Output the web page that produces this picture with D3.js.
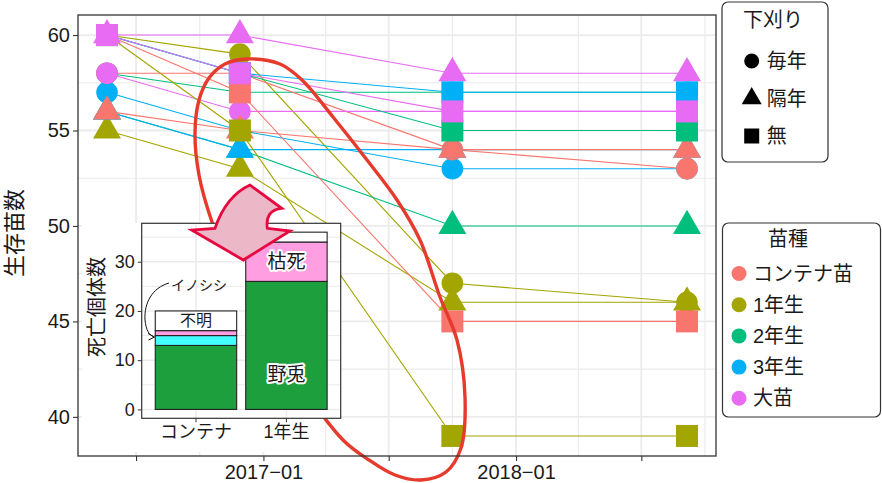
<!DOCTYPE html>
<html><head><meta charset="utf-8">
<script src="https://cdn.jsdelivr.net/npm/d3@7"></script>
<style>
body{margin:0;background:#fff}
svg{display:block}
text{font-family:"Liberation Sans","Noto Sans CJK JP",sans-serif;fill:#1a1a1a}
</style>
</head><body>
<svg id="c" width="882" height="483"></svg>
<script>
// ---------------- data ----------------
const surveyDates = ["2016-05-20","2016-11-28","2017-10-01","2018-09-05"];
const seedlingTypes = ["コンテナ苗","1年生","2年生","3年生","大苗"];
const typeColors = ["#F8766D","#A3A500","#00BF7D","#00B0F6","#E76BF3"];
const weedingTypes = ["毎年","隔年","無"];
const drawTypeOrder = [1,2,3,0,4];
// surviving seedlings per type x weeding at each survey
const containerEvery = [58,58,54,53];
const containerAlt   = [56,55,54,54];
const containerNone  = [60,57,45,45];
const year1Every = [60,59,47,46];
const year1Alt   = [55,53,46,46];
const year1None  = [60,55,39,39];
const year2Every = [58,57,57,57];
const year2Alt   = [56,54,50,50];
const year2None  = [60,58,55,55];
const year3Every = [57,55,53,53];
const year3Alt   = [56,54,54,54];
const year3None  = [60,58,57,57];
const largeEvery = [58,56,56,56];
const largeAlt   = [60,60,58,58];
const largeNone  = [60,58,56,56];
const yTicks = [40,45,50,55,60];
const yMinorTicks = [42.5,47.5,52.5,57.5];
const xTickLabels = {"2017-01":"2017−01","2018-01":"2018−01"};

// inset: dead seedlings by cause
const insetCats = ["コンテナ","1年生"];
const causes = ["野兎","イノシシ","枯死","不明"];
const causeColors = ["#1c9f3c","#44ffff","#ff9ee0","#ffffff"];
const deadRabbit  = [13,26];
const deadBoar    = [2,0];
const deadWither  = [1,8];
const deadUnknown = [4,2];
const insetTicks = [0,10,20,30];
const insetMinor = [5,15,25,35];

// ---------------- build ----------------
const series = [
  {t:0,w:0,v:containerEvery},{t:0,w:1,v:containerAlt},{t:0,w:2,v:containerNone},
  {t:1,w:0,v:year1Every},{t:1,w:1,v:year1Alt},{t:1,w:2,v:year1None},
  {t:2,w:0,v:year2Every},{t:2,w:1,v:year2Alt},{t:2,w:2,v:year2None},
  {t:3,w:0,v:year3Every},{t:3,w:1,v:year3Alt},{t:3,w:2,v:year3None},
  {t:4,w:0,v:largeEvery},{t:4,w:1,v:largeAlt},{t:4,w:2,v:largeNone}
];
const svg = d3.select("#c");
const P = {l:78, r:716, t:15, b:456};
const parse = d3.timeParse("%Y-%m-%d");
const dts = surveyDates.map(parse);
const span = dts[3]-dts[0];
const x = d3.scaleTime().domain([new Date(+dts[0]-0.05*span), new Date(+dts[3]+0.05*span)]).range([P.l,P.r]);
const y = d3.scaleLinear().domain([37.95,61.05]).range([P.b,P.t]);

svg.append("rect").attr("x",P.l).attr("y",P.t).attr("width",P.r-P.l).attr("height",P.b-P.t).attr("fill","#fff");
const xMajor = d3.timeMonth.every(6).range(x.domain()[0], x.domain()[1]);
const xMinor = d3.timeMonth.every(3).range(x.domain()[0], x.domain()[1]).filter(d=>d.getMonth()%6!==0);
const grid = svg.append("g");
grid.selectAll(".ym").data(yMinorTicks).join("line").attr("x1",P.l).attr("x2",P.r).attr("y1",d=>y(d)).attr("y2",d=>y(d)).attr("stroke","#ebebeb").attr("stroke-width",1.2);
grid.selectAll(".xm").data(xMinor).join("line").attr("y1",P.t).attr("y2",P.b).attr("x1",d=>x(d)).attr("x2",d=>x(d)).attr("stroke","#ebebeb").attr("stroke-width",1.2);
grid.selectAll(".yM").data(yTicks).join("line").attr("x1",P.l).attr("x2",P.r).attr("y1",d=>y(d)).attr("y2",d=>y(d)).attr("stroke","#ebebeb").attr("stroke-width",1.8);
grid.selectAll(".xM").data(xMajor).join("line").attr("y1",P.t).attr("y2",P.b).attr("x1",d=>x(d)).attr("x2",d=>x(d)).attr("stroke","#ebebeb").attr("stroke-width",1.8);

// order: weeding, then type order
const ordered = [];
weedingTypes.forEach((w,wi)=>drawTypeOrder.forEach(ti=>{ordered.push(series.find(s=>s.t===ti&&s.w===wi));}));
const line = d3.line().x((d,i)=>x(dts[i])).y(d=>y(d));
svg.append("g").selectAll("path").data(ordered).join("path")
  .attr("d",d=>line(d.v)).attr("fill","none").attr("stroke",d=>typeColors[d.t]).attr("stroke-width",1.1);

function shapePath(w, cx, cy, s){
  if(w===0){ return `M${cx-s.r},${cy}a${s.r},${s.r} 0 1,0 ${2*s.r},0a${s.r},${s.r} 0 1,0 ${-2*s.r},0Z`; }
  if(w===1){ const h=s.tw*0.866; return `M${cx},${cy-2*h/3}L${cx+s.tw/2},${cy+h/3}L${cx-s.tw/2},${cy+h/3}Z`; }
  return `M${cx-s.sq/2},${cy-s.sq/2}h${s.sq}v${s.sq}h${-s.sq}Z`;
}
const big = {r:10.8, tw:28, sq:22};
const pts = [];
ordered.forEach(s=>s.v.forEach((v,i)=>pts.push({s,v,i})));
svg.append("g").selectAll("path").data(pts).join("path")
  .attr("d",d=>shapePath(d.s.w, x(dts[d.i]), y(d.v), big)).attr("fill",d=>typeColors[d.s.t]);

// red ellipse annotation
const ellPts = [[247,59],[280,64],[302,80],[333,117],[367,160],[397,200],[420,240],[440,297],[457,340],[465,397],[461,448],[446,472],[421,480],[395,475],[369,460],[343,440],[290,370],[240,290],[212,222],[199,175],[195,133],[199,100],[209,78],[225,64]];
svg.append("path").attr("d",d3.line().curve(d3.curveCatmullRomClosed)(ellPts))
  .attr("fill","none").attr("stroke","#e63a2c").attr("stroke-width",3.4);

// axes
const xAxis = d3.axisBottom(x).tickValues(xMajor).tickSize(5).tickPadding(4)
  .tickFormat(d=>xTickLabels[d3.timeFormat("%Y-%m")(d)]||"");
const gx = svg.append("g").attr("transform",`translate(0,${P.b})`).call(xAxis);
const yAxis = d3.axisLeft(y).tickValues(yTicks).tickSize(5).tickPadding(3);
const gy = svg.append("g").attr("transform",`translate(${P.l},0)`).call(yAxis);
[gx,gy].forEach(g=>{g.select(".domain").remove();g.selectAll(".tick line").attr("stroke","#333").attr("stroke-width",1.1);
  g.selectAll(".tick text").attr("font-size",20).attr("fill","#1a1a1a").attr("font-family",null);});
svg.append("text").attr("transform","translate(14,233) rotate(-90)").attr("text-anchor","middle").attr("dominant-baseline","central").attr("font-size",22).text("生存苗数");

// ---------------- inset ----------------
const I = {l:141.7, r:340.7, t:223.3, b:418.3};
svg.append("rect").attr("x",82).attr("y",223).attr("width",236).attr("height",229).attr("fill","#fff");
svg.append("rect").attr("x",I.l).attr("y",I.t).attr("width",I.r-I.l).attr("height",I.b-I.t).attr("fill","#fff");
const ix = d3.scaleBand().domain(insetCats).range([I.l,I.r]).paddingInner(0.1).paddingOuter(0.15);
const iy = d3.scaleLinear().domain([-1.8,37.8]).range([I.b,I.t]);
const ig = svg.append("g");
ig.selectAll(".mn").data(insetMinor).join("line").attr("x1",I.l).attr("x2",I.r).attr("y1",d=>iy(d)).attr("y2",d=>iy(d)).attr("stroke","#ebebeb").attr("stroke-width",1);
ig.selectAll(".mj").data(insetTicks).join("line").attr("x1",I.l).attr("x2",I.r).attr("y1",d=>iy(d)).attr("y2",d=>iy(d)).attr("stroke","#ebebeb").attr("stroke-width",1.5);
ig.selectAll(".vx").data(insetCats).join("line").attr("y1",I.t).attr("y2",I.b).attr("x1",d=>ix(d)+ix.bandwidth()/2).attr("x2",d=>ix(d)+ix.bandwidth()/2).attr("stroke","#ebebeb").attr("stroke-width",1.5);
const insetRows = insetCats.map((c,i)=>({cat:c,"野兎":deadRabbit[i],"イノシシ":deadBoar[i],"枯死":deadWither[i],"不明":deadUnknown[i]}));
const stacked = d3.stack().keys(causes)(insetRows);
stacked.forEach((layer,li)=>{
  ig.selectAll(".b"+li).data(layer.filter(d=>d[1]>d[0])).join("rect")
    .attr("x",d=>ix(d.data.cat)).attr("width",ix.bandwidth())
    .attr("y",d=>iy(d[1])).attr("height",d=>iy(d[0])-iy(d[1]))
    .attr("fill",causeColors[li]).attr("stroke","#222").attr("stroke-width",1.1);
});
ig.append("rect").attr("x",I.l).attr("y",I.t).attr("width",I.r-I.l).attr("height",I.b-I.t).attr("fill","none").attr("stroke","#333").attr("stroke-width",1.2);
const ixA = d3.axisBottom(ix).tickSize(4).tickPadding(3);
const gix = ig.append("g").attr("transform",`translate(0,${I.b})`).call(ixA);
const iyA = d3.axisLeft(iy).tickValues(insetTicks).tickSize(4).tickPadding(3);
const giy = ig.append("g").attr("transform",`translate(${I.l},0)`).call(iyA);
[gix,giy].forEach(g=>{g.select(".domain").remove();g.selectAll(".tick line").attr("stroke","#333");
  g.selectAll(".tick text").attr("font-size",18).attr("fill","#1a1a1a").attr("font-family",null);});
ig.append("text").attr("transform","translate(97,307) rotate(-90)").attr("text-anchor","middle").attr("dominant-baseline","central").attr("font-size",20).text("死亡個体数");
// segment labels
const cx0 = ix(insetCats[0])+ix.bandwidth()/2, cx1 = ix(insetCats[1])+ix.bandwidth()/2;
ig.append("text").attr("x",cx0).attr("y",iy(deadRabbit[0]+deadBoar[0]+deadWither[0]+deadUnknown[0]/2)).attr("text-anchor","middle").attr("dominant-baseline","central").attr("font-size",16).text("不明");
[["枯死",cx1,iy(deadRabbit[1]+deadWither[1]/2)],["野兎",cx1,iy(7)]].forEach(([t,xx,yy])=>{
  ig.append("text").attr("x",xx).attr("y",yy).attr("text-anchor","middle").attr("dominant-baseline","central").attr("font-size",19)
    .attr("stroke","#fff").attr("stroke-width",4).attr("stroke-linejoin","round").attr("paint-order","stroke").text(t);
});
ig.append("text").attr("x",171).attr("y",285).attr("dominant-baseline","central").attr("font-size",14).text("イノシシ");
ig.append("path").attr("d","M169,283 C152,288 144,303 145,320 C146,330 149,335 154,337").attr("fill","none").attr("stroke","#111").attr("stroke-width",1);
ig.append("path").attr("d","M148,333.5 L154.5,337 L148.5,340").attr("fill","none").attr("stroke","#111").attr("stroke-width",1);

// big pink arrow
svg.append("path").attr("d","M215,228.3 L191.7,230 L243.3,260 L290,231 L267.3,228.3 Q265,210 281.7,208.3 L250,185 Q226,196 215,228.3 Z")
  .attr("fill","#ecb8c7").attr("stroke","#e6083f").attr("stroke-width",2.8).attr("stroke-linejoin","miter");

// panel border
svg.append("rect").attr("x",P.l).attr("y",P.t).attr("width",P.r-P.l).attr("height",P.b-P.t).attr("fill","none").attr("stroke","#333").attr("stroke-width",1.3);

// ---------------- legends ----------------
const L1 = svg.append("g");
L1.append("rect").attr("x",722).attr("y",2).attr("width",106).attr("height",160).attr("rx",6).attr("fill","#fff").attr("stroke","#333").attr("stroke-width",1.2);
L1.append("text").attr("x",743).attr("y",20).attr("dominant-baseline","central").attr("font-size",20).text("下刈り");
const small = {r:7.5, tw:20, sq:15};
weedingTypes.forEach((w,i)=>{
  const yy = 61+i*37.5;
  L1.append("path").attr("d",shapePath(i,751.7,yy,small)).attr("fill","#000");
  L1.append("text").attr("x",766.7).attr("y",yy).attr("dominant-baseline","central").attr("font-size",20).text(w);
});
const L2 = svg.append("g");
L2.append("rect").attr("x",722.5).attr("y",223).attr("width",158).attr("height",194).attr("rx",6).attr("fill","#fff").attr("stroke","#333").attr("stroke-width",1.2);
L2.append("text").attr("x",788).attr("y",239).attr("text-anchor","middle").attr("dominant-baseline","central").attr("font-size",20).text("苗種");
seedlingTypes.forEach((t,i)=>{
  const yy = 273.5+i*31.2;
  L2.append("circle").attr("cx",739).attr("cy",yy).attr("r",7.5).attr("fill",typeColors[i]);
  L2.append("text").attr("x",753).attr("y",yy).attr("dominant-baseline","central").attr("font-size",20).text(t);
});
</script>
</body></html>
